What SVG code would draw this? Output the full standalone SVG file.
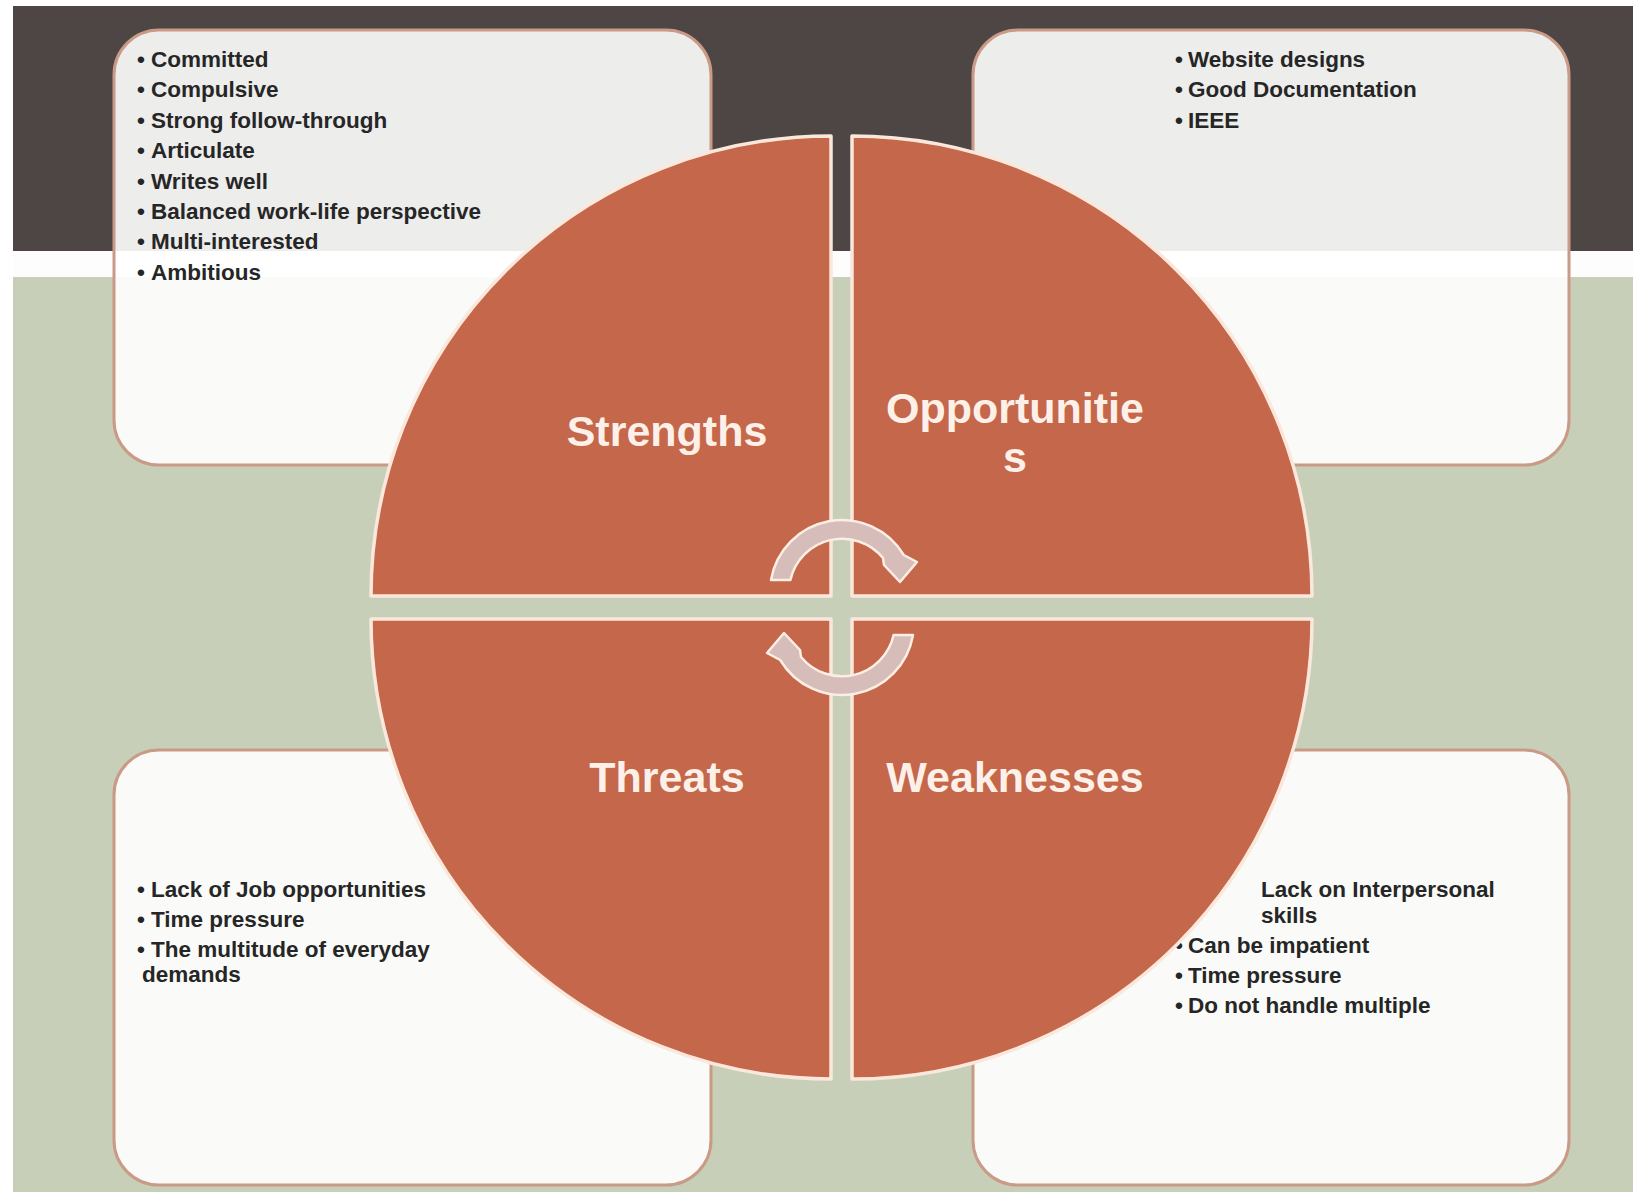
<svg xmlns="http://www.w3.org/2000/svg" width="1633" height="1192" viewBox="0 0 1633 1192">
  <style>
    .box { fill: #ffffff; fill-opacity: 0.9; stroke: #c99a86; stroke-width: 3; }
    .item { font-family: "Liberation Sans", Arial, sans-serif; font-weight: bold; font-size: 22.5px; fill: #262626; }
    .quad { fill: #c4674b; stroke: #fbe8dc; stroke-width: 3.5; stroke-linejoin: round; }
    .label { font-family: "Liberation Sans", Arial, sans-serif; font-weight: bold; font-size: 43px; fill: #fdf0e8; text-anchor: middle; }
    .cyc { fill: #d6bdb9; stroke: #fdeee4; stroke-width: 2.5; stroke-linejoin: round; }
  </style>
  <defs>
    <path id="cycArrow" d="M 771,580 A 72 72 0 0 1 903.8,555 L 917,562 L 900,582 L 884,565 L 883,558 A 53 53 0 0 0 790.4,580 Z"/>
  </defs>

  <!-- background bands -->
  <rect x="0" y="0" width="1633" height="1192" fill="#ffffff"/>
  <rect x="13" y="6" width="1620" height="245" fill="#4e4644"/>
  <rect x="13" y="251" width="1620" height="26" fill="#fdfdfd"/>
  <rect x="13" y="277" width="1620" height="915" fill="#c8cfb8"/>

  <!-- text boxes -->
  <g id="box-strengths">
    <rect class="box" x="114" y="30" width="597" height="435" rx="45" ry="45"/>
    <text class="item" y="66.5"><tspan x="137">•</tspan><tspan x="151">Committed</tspan></text>
    <text class="item" y="97"><tspan x="137">•</tspan><tspan x="151">Compulsive</tspan></text>
    <text class="item" y="127.5"><tspan x="137">•</tspan><tspan x="151">Strong follow-through</tspan></text>
    <text class="item" y="158"><tspan x="137">•</tspan><tspan x="151">Articulate</tspan></text>
    <text class="item" y="188.5"><tspan x="137">•</tspan><tspan x="151">Writes well</tspan></text>
    <text class="item" y="218.5"><tspan x="137">•</tspan><tspan x="151">Balanced work-life perspective</tspan></text>
    <text class="item" y="249"><tspan x="137">•</tspan><tspan x="151">Multi-interested</tspan></text>
    <text class="item" y="279.5"><tspan x="137">•</tspan><tspan x="151">Ambitious</tspan></text>
  </g>

  <g id="box-opportunities">
    <rect class="box" x="973" y="30" width="596" height="435" rx="45" ry="45"/>
    <text class="item" y="66.5"><tspan x="1175">•</tspan><tspan x="1188">Website designs</tspan></text>
    <text class="item" y="97"><tspan x="1175">•</tspan><tspan x="1188">Good Documentation</tspan></text>
    <text class="item" y="127.5"><tspan x="1175">•</tspan><tspan x="1188">IEEE</tspan></text>
  </g>

  <g id="box-threats">
    <rect class="box" x="114" y="750" width="597" height="435" rx="45" ry="45"/>
    <text class="item" y="897"><tspan x="137">•</tspan><tspan x="151">Lack of Job opportunities</tspan></text>
    <text class="item" y="927"><tspan x="137">•</tspan><tspan x="151">Time pressure</tspan></text>
    <text class="item" y="957"><tspan x="137">•</tspan><tspan x="151">The multitude of everyday</tspan></text>
    <text class="item" x="142" y="982">demands</text>
  </g>

  <g id="box-weaknesses">
    <rect class="box" x="973" y="750" width="596" height="435" rx="45" ry="45"/>
    <text class="item" x="1261" y="897">Lack on Interpersonal</text>
    <text class="item" x="1261" y="923">skills</text>
    <text class="item" y="953"><tspan x="1175">•</tspan><tspan x="1188">Can be impatient</tspan></text>
    <text class="item" y="983"><tspan x="1175">•</tspan><tspan x="1188">Time pressure</tspan></text>
    <text class="item" y="1013"><tspan x="1175">•</tspan><tspan x="1188">Do not handle multiple</tspan></text>
  </g>

  <!-- quadrants -->
  <g id="strengths">
    <path class="quad" d="M 831,596 L 371,596 A 460 460 0 0 1 831,136 Z"/>
    <text class="label" x="667" y="446">Strengths</text>
  </g>
  <g id="opportunities">
    <path class="quad" d="M 852,596 L 852,136 A 460 460 0 0 1 1312,596 Z"/>
    <text class="label" x="1015" y="423">Opportunitie</text>
    <text class="label" x="1015" y="472">s</text>
  </g>
  <g id="threats">
    <path class="quad" d="M 831,619 L 831,1079 A 460 460 0 0 1 371,619 Z"/>
    <text class="label" x="667" y="792">Threats</text>
  </g>
  <g id="weaknesses">
    <path class="quad" d="M 852,619 L 1312,619 A 460 460 0 0 1 852,1079 Z"/>
    <text class="label" x="1015" y="792">Weaknesses</text>
  </g>

  <!-- cycle arrows -->
  <g id="connectors">
    <use href="#cycArrow" class="cyc"/>
    <use href="#cycArrow" class="cyc" transform="rotate(180 842 607.5)"/>
  </g>
</svg>
